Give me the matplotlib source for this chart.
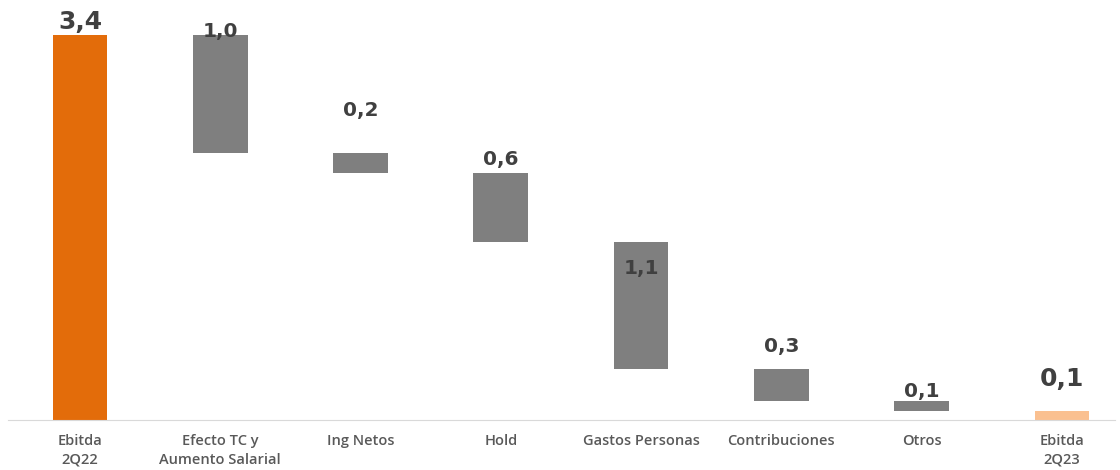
import numpy as np
import matplotlib.pyplot as plt

# Ebitda bridge 2Q22 -> 2Q23
categories = ["Ebitda\n2Q22", "Efecto TC y\nAumento Salarial", "Ing Netos", "Hold",
              "Gastos Personas", "Contribuciones", "Otros", "Ebitda\n2Q23"]
start_value = 3.40
deltas = [-1.04, -0.18, -0.61, -1.12, -0.28, -0.09]
end_value = 0.08
value_labels = ["3,4", "1,0", "0,2", "0,6", "1,1", "0,3", "0,1", "0,1"]

# waterfall geometry
levels = np.concatenate([[start_value], start_value + np.cumsum(deltas)])
bottoms = [0] + list(levels[1:]) + [0]
heights = [start_value] + [-d for d in deltas] + [end_value]
tops = [b + h for b, h in zip(bottoms, heights)]

colors = ["#E36C0A"] + ["#7F7F7F"] * len(deltas) + ["#FAC090"]
# label centre offset from bar top (pixels), placed by hand like in the original
label_offsets = [13, 4, 42, 14, -26, 23, 9, 32]
label_sizes = [18, 14.5, 14.5, 14.5, 14.5, 14.5, 14.5, 18]

fig = plt.figure(figsize=(11.2, 4.7), dpi=100)
ax = fig.add_axes([8/1120, 50/470, 1107/1120, 420/470])

x = np.arange(len(categories))
ax.bar(x, heights, bottom=bottoms, width=0.39, color=colors)

for i in range(len(categories)):
    ax.annotate(value_labels[i], (x[i], tops[i]), xytext=(0, label_offsets[i]),
                textcoords="offset pixels", ha="center", va="center",
                fontsize=label_sizes[i], fontweight="bold", color="#404040")

ax.set_xlim(-0.513, 7.378)
ax.set_ylim(0, 3.71)
ax.set_xticks(x)
ax.set_xticklabels(categories, fontsize=10.5, color="#595959", family="Open Sans",
                   fontweight="semibold", linespacing=1.45)
ax.tick_params(axis="x", length=0, pad=10)
ax.set_yticks([])
for s in ["top", "right", "left"]:
    ax.spines[s].set_visible(False)
ax.spines["bottom"].set_color("#D9D9D9")

fig.savefig("out.png", dpi=100)
